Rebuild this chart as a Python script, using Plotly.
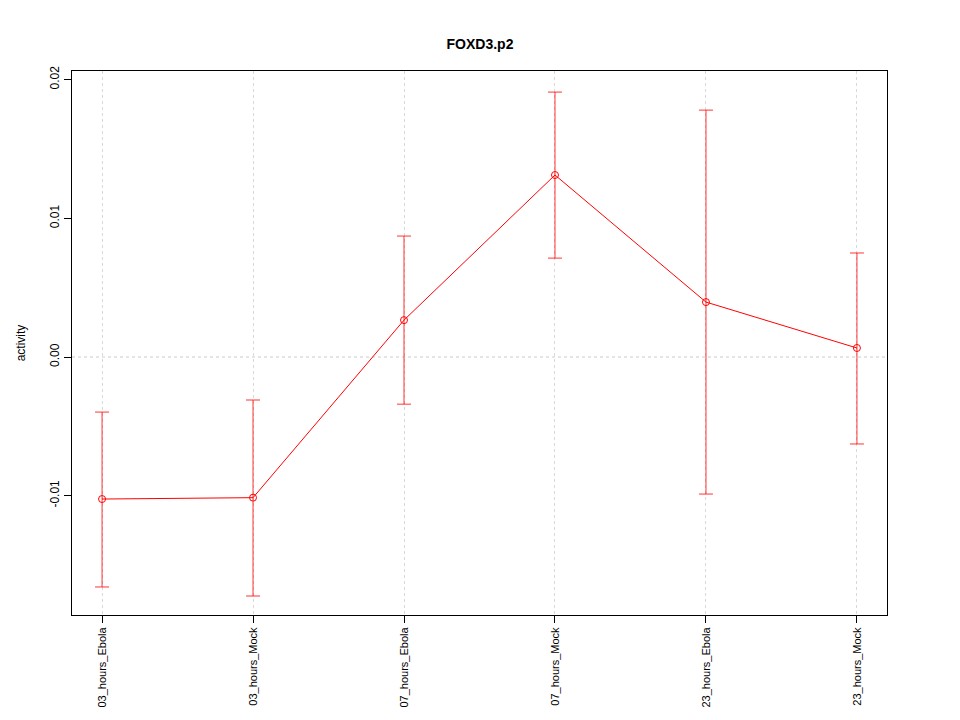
import plotly.graph_objects as go

categories = ["03_hours_Ebola", "03_hours_Mock", "07_hours_Ebola", "07_hours_Mock", "23_hours_Ebola", "23_hours_Mock"]
values = [-0.01024, -0.01014, 0.00266, 0.01312, 0.00396, 0.00065]
upper = [-0.00397, -0.00310, 0.00872, 0.01910, 0.01780, 0.00750]
lower = [-0.01658, -0.01723, -0.00340, 0.00713, -0.00988, -0.00627]
ytick_vals = [-0.01, 0.0, 0.01, 0.02]
ytick_text = ["-0.01", "0.00", "0.01", "0.02"]

xs = list(range(len(categories)))
err_plus = [u - v for u, v in zip(upper, values)]
err_minus = [v - l for v, l in zip(values, lower)]

fig = go.Figure()
fig.add_trace(go.Scatter(
    x=xs, y=values, mode="lines+markers",
    line=dict(color="red", width=1),
    marker=dict(symbol="circle-open", size=7, color="red", line=dict(width=1)),
    error_y=dict(type="data", symmetric=False, array=err_plus, arrayminus=err_minus,
                 color="red", thickness=0.8, width=7),
    showlegend=False,
))

fig.add_shape(type="line", xref="paper", x0=0, x1=1, yref="y", y0=0, y1=0,
              line=dict(color="#cccccc", width=1, dash="dot"), layer="below")

fig.update_layout(
    width=960, height=720,
    margin=dict(l=64, r=81, t=63, b=113),
    paper_bgcolor="white", plot_bgcolor="white",
    font=dict(family="Liberation Sans, Arial, sans-serif", size=12, color="black"),
    title=dict(text="<b>FOXD3.p2</b>", x=(480 - 8) / 960, xanchor="center", y=1 - 36/720, yanchor="middle",
               font=dict(size=14)),
    xaxis=dict(
        range=[-0.199, 5.199], tickmode="array", tickvals=xs, ticktext=categories,
        tickangle=-90, ticks="outside", ticklen=7, tickcolor="black",
        showline=True, linecolor="black", mirror=True, linewidth=1,
        showgrid=True, gridcolor="#d9d9d9", griddash="dot", gridwidth=1,
        zeroline=False, tickfont=dict(size=11),
    ),
    yaxis=dict(
        range=[-0.0186, 0.02062], tickmode="array", tickvals=ytick_vals, ticktext=ytick_text,
        tickangle=-90, ticks="outside", ticklen=7, tickcolor="black",
        showline=True, linecolor="black", mirror=True, linewidth=1,
        showgrid=False, zeroline=False, tickfont=dict(size=12),
        title=dict(text="activity", standoff=20, font=dict(size=12)),
    ),
)

fig.write_html("out.html")
